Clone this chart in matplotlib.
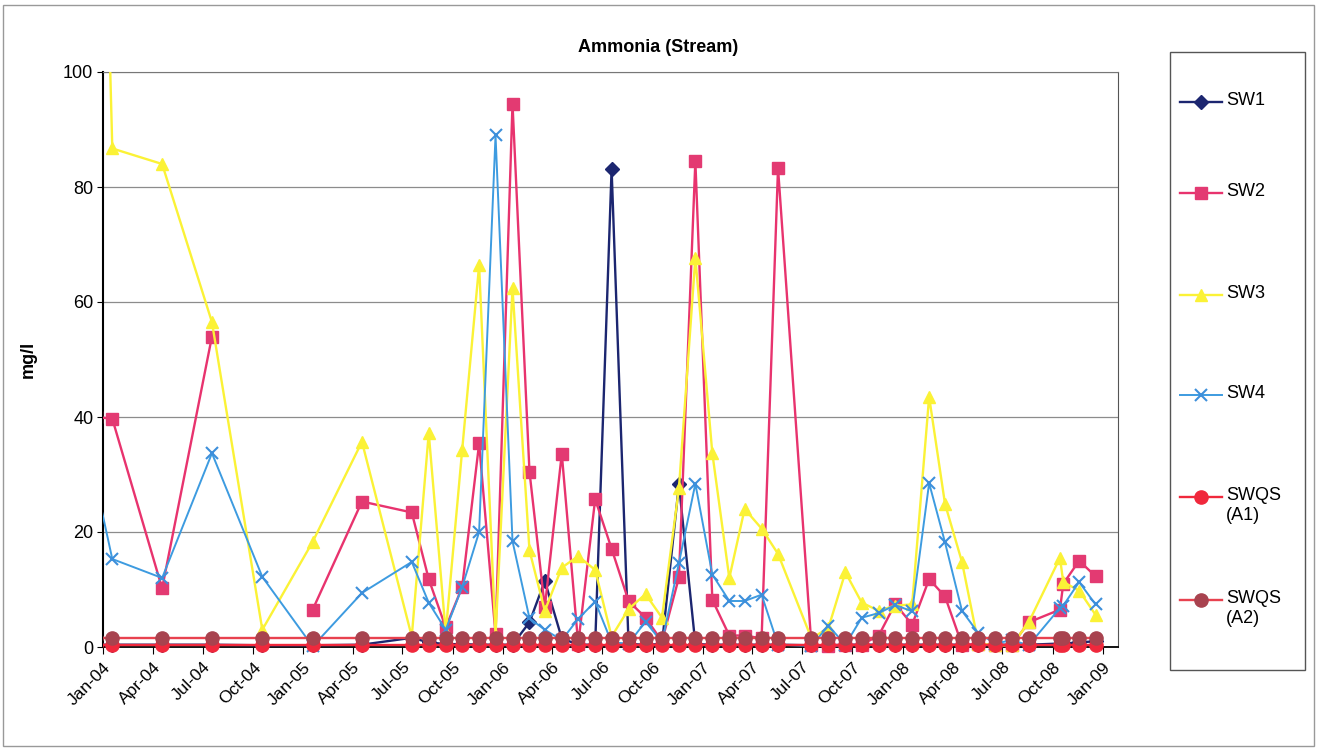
import matplotlib
matplotlib.use('Agg')
import matplotlib.pyplot as plt
import matplotlib.dates as mdates
from matplotlib.lines import Line2D
from matplotlib.patches import Rectangle
import numpy as np
import pandas as pd

plt.rcParams['font.family'] = ['Liberation Sans', 'DejaVu Sans']

# sampling dates (quarterly to mid 2005, then monthly)
dates = pd.to_datetime([
    '2003-12-20', '2004-01-18', '2004-04-18', '2004-07-18', '2004-10-18',
    '2005-01-18', '2005-04-18', '2005-07-18', '2005-08-18', '2005-09-18',
    '2005-10-18', '2005-11-18', '2005-12-18', '2006-01-18', '2006-02-18',
    '2006-03-18', '2006-04-18', '2006-05-18', '2006-06-18', '2006-07-18',
    '2006-08-18', '2006-09-18', '2006-10-18', '2006-11-18', '2006-12-18',
    '2007-01-18', '2007-02-18', '2007-03-18', '2007-04-18', '2007-05-18',
    '2007-07-18', '2007-08-18', '2007-09-18', '2007-10-18', '2007-11-18',
    '2007-12-18', '2008-01-18', '2008-02-18', '2008-03-18', '2008-04-18',
    '2008-05-18', '2008-06-18', '2008-07-18', '2008-08-18', '2008-10-14',
    '2008-10-20', '2008-11-18', '2008-12-18'])

sw1 = [0.4, 0.4, 0.4, 0.4, 0.3, 0.3, 0.4, 1.6, 0.8, 0.5,
       0.5, 0.4, 0.4, 0.4, 4.3, 11.5, 1.5, 0.4, 0.4, 83.1,
       0.5, 0.4, 0.5, 28.3, 0.5, 0.4, 0.4, 0.4, 0.4, 0.4,
       0.3, 0.3, 0.4, 0.4, 0.4, 0.4, 0.4, 0.4, 0.4, 0.4,
       0.4, 0.4, 0.4, 0.4, 0.6, 0.6, 0.8, 1.0]
sw2 = [40.0, 39.7, 10.2, 54.0, np.nan, 6.5, 25.3, 23.4, 11.8, 3.4,
       10.4, 35.4, 2.2, 94.5, 30.5, 6.9, 33.6, 0.5, 25.7, 17.1,
       8.0, 5.1, 1.0, 12.1, 84.5, 8.2, 2.0, 2.0, 1.5, 83.3,
       0.3, 0.2, 0.3, 0.4, 2.0, 7.5, 3.9, 11.8, 8.8, 0.4,
       0.5, 0.3, 0.3, 4.3, 6.5, 11.0, 15.0, 12.3]
sw3 = [190.0, 86.7, 84.0, 56.5, 3.0, 18.3, 35.7, 1.8, 37.2, 2.5,
       34.2, 66.4, 2.0, 62.4, 16.8, 6.3, 13.8, 15.8, 13.4, 1.8,
       6.6, 9.2, 5.1, 27.6, 67.7, 33.7, 12.0, 24.0, 20.6, 16.2,
       1.5, 3.3, 13.0, 7.7, 6.3, 7.2, 7.4, 43.5, 24.9, 14.8,
       0.6, 0.3, 0.3, 4.3, 15.5, 11.3, 9.8, 5.6]
sw4 = [28.0, 15.3, 12.0, 33.7, 12.2, 0.1, 9.4, 14.8, 7.7, 3.0,
       10.4, 20.0, 89.0, 18.4, 5.0, 3.0, 1.2, 4.9, 7.9, 0.8,
       0.6, 4.4, 0.8, 14.6, 28.4, 12.6, 8.0, 8.0, 9.1, 0.4,
       0.2, 3.7, 0.4, 5.1, 5.9, 7.3, 6.2, 28.5, 18.2, 6.3,
       2.4, 0.6, 1.2, 0.3, 6.8, 7.2, 11.3, 7.4]
swqs_a1 = [0.3] * len(dates)
swqs_a2 = [1.5] * len(dates)

W, H = 1317, 751
fig = plt.figure(figsize=(W / 100, H / 100), dpi=100)
ax = fig.add_axes([103 / W, 1 - 647 / H, 1015 / W, 575 / H])

series = [
    ('SW1', sw1, dict(color='#1c2670', marker='D', ms=7, mfc='#1c2670', mec='#1c2670', lw=1.7)),
    ('SW2', sw2, dict(color='#e8336e', marker='s', ms=9, mfc='#e33a72', mec='#e33a72', lw=1.7)),
    ('SW3', sw3, dict(color='#fbf236', marker='^', ms=9, mfc='#fbf236', mec='#fbf236', lw=1.7)),
    ('SW4', sw4, dict(color='#3d9be0', marker='x', ms=9, mew=1.5, mec='#3d8fdb', lw=1.4)),
    ('SWQS\n(A1)', swqs_a1, dict(color='#f0283c', marker='o', ms=9.5, mfc='#f0283c', mec='#f0283c', lw=1.7)),
    ('SWQS\n(A2)', swqs_a2, dict(color='#e8424f', marker='o', ms=9.5, mfc='#a8434f', mec='#a8434f', lw=1.7)),
]

# clip at the plot area but let markers on the zero line hang below it
clip = Rectangle((0, -0.04), 1, 1.04, transform=ax.transAxes, fill=False, ec='none')
for i, (name, vals, st) in enumerate(series):
    line, = ax.plot(dates, vals, zorder=3 + i, **st)
    line.set_clip_path(clip)

ax.set_xlim(pd.Timestamp('2004-01-01'), pd.Timestamp('2009-01-28'))
ax.set_ylim(0, 100)
ax.set_yticks(range(0, 101, 20))
ax.xaxis.set_major_locator(mdates.MonthLocator(bymonth=[1, 4, 7, 10]))
ax.xaxis.set_major_formatter(mdates.DateFormatter('%b-%y'))
plt.setp(ax.get_xticklabels(), rotation=45, ha='right', rotation_mode='anchor')
ax.tick_params(axis='x', labelsize=12.5, length=5, direction='out', pad=4)
ax.tick_params(axis='y', labelsize=13, length=4, direction='out', pad=3)

ax.yaxis.grid(True, color='#8c8c8c', lw=0.9)
ax.set_axisbelow(True)
ax.spines['left'].set_linewidth(1.5)
ax.spines['bottom'].set_linewidth(1.3)
ax.spines['top'].set_color('#777777')
ax.spines['right'].set_color('#555555')

ax.set_ylabel('mg/l', fontsize=13, fontweight='bold')
ax.yaxis.set_label_coords(-0.065, 0.5)
fig.text(0.5, 1 - 47 / H, 'Ammonia (Stream)', ha='center', va='center',
         fontsize=13, fontweight='bold')

# legend box on the right, one widely spaced entry per series
fig.add_artist(Rectangle((1170 / W, 1 - 670 / H), 135 / W, 618 / H,
                         transform=fig.transFigure, fill=False, ec='#555555', lw=1))
leg_y = [102, 193, 295, 395, 497, 600]
for (name, vals, st), y in zip(series, leg_y):
    line_st = {k: v for k, v in st.items() if k not in ('marker', 'ms', 'mfc', 'mec', 'mew')}
    mark_st = {k: v for k, v in st.items() if k != 'lw'}
    fig.add_artist(Line2D([1180 / W, 1222 / W], [1 - y / H] * 2,
                          transform=fig.transFigure, **line_st))
    fig.add_artist(Line2D([1201 / W], [1 - y / H], transform=fig.transFigure,
                          ls='none', **mark_st))
    fig.text(1226 / W, 1 - (y - 10) / H, name, ha='left', va='top',
             fontsize=13, linespacing=1.25)

# chart border
fig.add_artist(Rectangle((3 / W, 5 / H), 1311 / W, 741 / H,
                         transform=fig.transFigure, fill=False, ec='#999999', lw=1))

fig.savefig('out.png', dpi=100)
